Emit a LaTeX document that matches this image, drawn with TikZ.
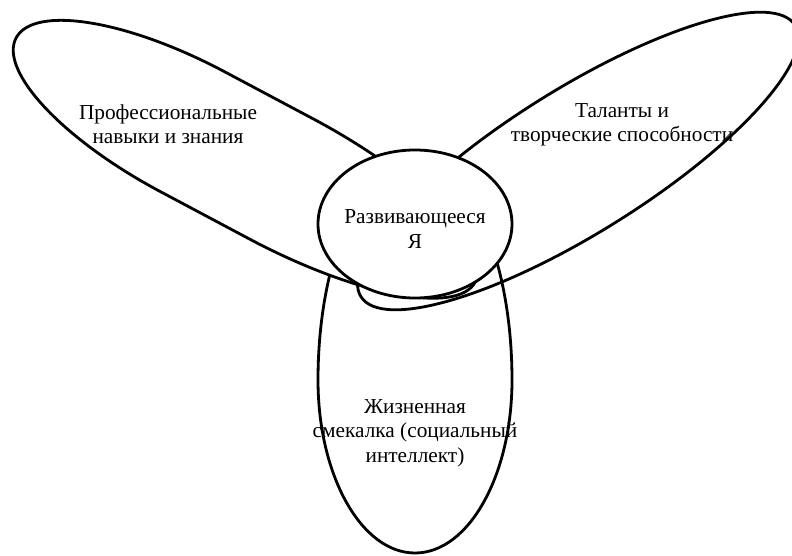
\documentclass[tikz,border=0pt]{standalone}
\usepackage{fontspec}
\setmainfont{Liberation Serif}
\newfontfamily\tnr{Liberation Serif}
\begin{document}
\begin{tikzpicture}[x=1pt,y=-1pt,
  petal/.style={line width=2.8pt},
  lbl/.style={align=center,inner sep=0pt,font=\tnr\fontsize{21.3}{24.5}\selectfont}]
\useasboundingbox (0,0) rectangle (792,556);
% bottom petal (egg, longer towards the centre)
\begin{scope}[shift={(415,380)}]
  \draw[petal] (97,0) arc[start angle=0, end angle=180, x radius=97, y radius=173]
                      arc[start angle=180, end angle=360, x radius=97, y radius=220] -- cycle;
\end{scope}
% right petal
\draw[petal] (578,161) [rotate around={32:(578,161)}] ellipse [x radius=256, y radius=72];
% left petal (elongated, filled, covers the others)
\begin{scope}[shift={(192.7,131.8)}, rotate=-28]
  \draw[petal,fill=white] (0,-68) -- (100,-68)
     arc[start angle=-90, end angle=90, x radius=220, y radius=68] -- (0,68)
     arc[start angle=90, end angle=270, x radius=200, y radius=68] -- cycle;
\end{scope}
% centre
\draw[petal,fill=white] (415,224) ellipse [x radius=97, y radius=74];
\node[lbl] (prof) at (168,124) {Профессиональные\\навыки и знания};
\node[lbl] (tal) at (622,125) {Таланты и\\творческие способности};
\node[lbl] (self) at (415,229) {Развивающееся\\Я};
\node[lbl] (life) at (415,433) {Жизненная\\смекалка (социальный\\интеллект)};
\end{tikzpicture}
\end{document}
